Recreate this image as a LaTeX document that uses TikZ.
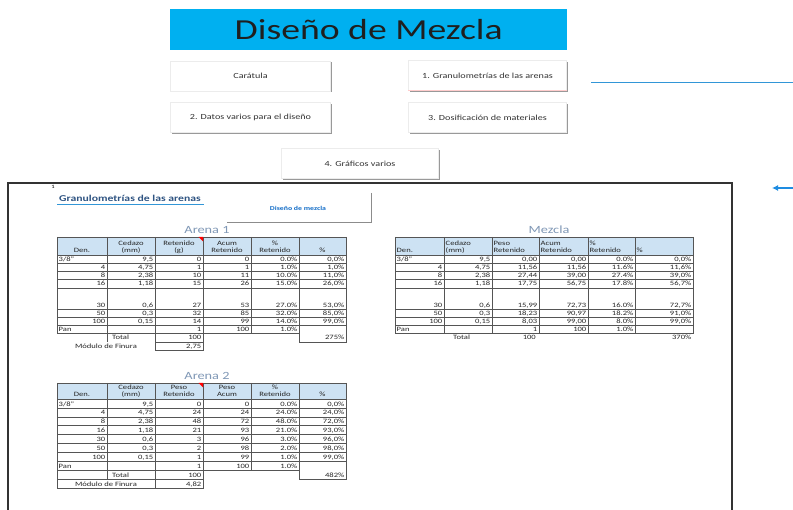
\documentclass[tikz,border=0pt]{standalone}
\usepackage{fontspec}
\setmainfont{Carlito}[FakeStretch=1.3]
\usetikzlibrary{arrows.meta,shadows}
\definecolor{titlecyan}{RGB}{0,176,240}
\definecolor{hdrblue}{RGB}{205,226,243}
\definecolor{tabline}{RGB}{85,85,85}
\definecolor{tabtitle}{RGB}{128,152,182}
\definecolor{headblue}{RGB}{47,84,130}
\definecolor{linkblue}{RGB}{20,110,200}
\definecolor{lineblue}{RGB}{50,150,215}
\definecolor{arrowblue}{RGB}{30,140,225}
\definecolor{btnedge}{RGB}{236,236,236}
\newcommand\tp{}
\newcommand\xa{}\newcommand\xb{}\newcommand\xc{}\newcommand\xd{}
\newcommand\xe{}\newcommand\xf{}\newcommand\xg{}
% data row: idx, ybottom, left text, den, v2..v6
\newcommand\drow[9]{%
  \node[cell,anchor=base west] (\tp#1a) at (\xa+1.5,#2-1.8) {#3};
  \node[cell,anchor=base east] (\tp#1b) at (\xb-1.5,#2-1.8) {#4};
  \node[cell,anchor=base east] (\tp#1c) at (\xc-1.5,#2-1.8) {#5};
  \node[cell,anchor=base east] (\tp#1d) at (\xd-1.5,#2-1.8) {#6};
  \node[cell,anchor=base east] (\tp#1e) at (\xe-1.5,#2-1.8) {#7};
  \node[cell,anchor=base east] (\tp#1f) at (\xf-1.5,#2-1.8) {#8};
  \node[cell,anchor=base east] (\tp#1g) at (\xg-1.5,#2-1.8) {#9};}
% header cell: name, x, ybottom, line1, line2, anchor
\newcommand\hcell[6]{%
  \node[cell,anchor=base #6] (#1u) at (#2,#3-9.5) {#4};
  \node[cell,anchor=base #6] (#1l) at (#2,#3-2.3) {#5};}
\begin{document}
\begin{tikzpicture}[x=1pt,y=-1pt,
  cell/.style={inner sep=0pt, font=\fontsize{6.6}{7}\selectfont, text=black!85},
  tab/.style={draw=tabline, line width=0.5pt},
  btn/.style={draw=btnedge, fill=white, inner sep=0pt, text=black!80,
    font=\fontsize{7.8}{9}\selectfont,
    drop shadow={shadow xshift=1.2pt, shadow yshift=-1.2pt, fill=black!40, opacity=1}},
  tabttl/.style={inner sep=0pt, text=tabtitle, font=\fontsize{11}{12}\selectfont}]
\useasboundingbox (0,0) rectangle (793,510);
\fill[white] (0,0) rectangle (793,510);

% ---------- top menu ----------
\node[fill=titlecyan, minimum width=397pt, minimum height=41pt, inner sep=0pt,
  anchor=north west, text=black!88, font=\fontsize{29}{30}\selectfont] (title) at (170,9) {Diseño de Mezcla};
\node[btn, minimum width=160pt, minimum height=30pt] (caratula) at (250.5,76) {Carátula};
\node[btn, minimum width=158pt, minimum height=30pt] (gran) at (487.5,75.5) {1. Granulometrías de las arenas};
\draw[red!20, line width=0.6pt] (gran.south west) -- (gran.south east);
\node[btn, minimum width=160pt, minimum height=30pt] (datos) at (250.5,117.5) {2. Datos varios para el diseño};
\node[btn, minimum width=158pt, minimum height=30pt] (dosif) at (487.5,117.5) {3. Dosificación de materiales};
\node[btn, minimum width=157pt, minimum height=30pt] (graf) at (360,163.5) {4. Gráficos varios};

\coordinate (bl1) at (591,83);
\coordinate (bl2) at (793,83);
\draw[lineblue, line width=1pt] (bl1) -- (bl2);
\coordinate (ar1) at (793,188);
\coordinate (ar2) at (772,188);
\draw[arrowblue, line width=1.2pt, -{Latex[length=6pt,width=6pt]}] (ar1) -- (ar2);

% ---------- sheet frame ----------
\draw[black!80, line width=1.3pt] (8,510) -- (8,183) -- (732,183) -- (732,510);
\node[inner sep=0pt, font=\fontsize{5}{5}\selectfont] (pnum) at (53,187) {1};
\node[inner sep=0pt, anchor=base west, text=headblue, font=\bfseries\fontsize{9}{10}\selectfont] (ghead) at (59,201.5) {Granulometrías de las arenas};
\draw[lineblue, line width=1.3pt] (57,204.5) -- (204,204.5);
\fill[white] (227,193) rectangle (371,223);
\draw[black!45, line width=1pt] (371,193) -- (371,223) -- (227,223);
\node[inner sep=0pt, text=linkblue, font=\bfseries\fontsize{6}{7}\selectfont] (dlink) at (298,208) {Diseño de mezcla};

% ---------- Arena 1 ----------
\node[tabttl] (t1) at (207,230) {Arena 1};
\fill[hdrblue] (57,237) rectangle (346,255);
\foreach \x in {57,107,155,203,251,299,346} \draw[tab] (\x,237) -- (\x,333.6);
\foreach \y in {237,255,263.2,271.4,279.6,287.8,309,317.2,325.4} \draw[tab] (57,\y) -- (346,\y);
\draw[tab] (57,333.6) -- (299,333.6);
\draw[tab] (107,333.6) -- (107,341.8);
\draw[tab] (155,333.6) rectangle (203,350);
\draw[tab] (155,341.8) -- (203,341.8);
\draw[tab] (299,333.6) -- (299,341.8) -- (346,341.8) -- (346,333.6);
\fill[red] (198.5,237) -- (203,237) -- (203,241.5) -- cycle;
\renewcommand\tp{a}
\renewcommand\xa{57}\renewcommand\xb{107}\renewcommand\xc{155}\renewcommand\xd{203}
\renewcommand\xe{251}\renewcommand\xf{299}\renewcommand\xg{346}
\hcell{ah1}{82}{255}{}{Den.}{}
\hcell{ah2}{131}{255}{Cedazo}{(mm)}{}
\hcell{ah3}{179}{255}{Retenido}{(g)}{}
\hcell{ah4}{227}{255}{Acum}{Retenido}{}
\hcell{ah5}{275}{255}{\%}{Retenido}{}
\hcell{ah6}{322.5}{255}{}{\%}{}
\drow{1}{263.2}{3/8"}{}{9,5}{0}{0}{0.0\%}{0,0\%}
\drow{2}{271.4}{}{4}{4,75}{1}{1}{1.0\%}{1,0\%}
\drow{3}{279.6}{}{8}{2,38}{10}{11}{10.0\%}{11,0\%}
\drow{4}{287.8}{}{16}{1,18}{15}{26}{15.0\%}{26,0\%}
\drow{5}{309}{}{30}{0,6}{27}{53}{27.0\%}{53,0\%}
\drow{6}{317.2}{}{50}{0,3}{32}{85}{32.0\%}{85,0\%}
\drow{7}{325.4}{}{100}{0,15}{14}{99}{14.0\%}{99,0\%}
\drow{8}{333.6}{Pan}{}{}{1}{100}{1.0\%}{}
\node[cell,anchor=base west] (atot) at (112,340) {Total};
\node[cell,anchor=base east] (atotv) at (201.5,340) {100};
\node[cell,anchor=base east] (atotp) at (344.5,340) {275\%};
\node[cell,anchor=base] (amod) at (106,348.2) {Módulo de Finura};
\node[cell,anchor=base east] (amodv) at (201.5,348.2) {2,75};

% ---------- Mezcla ----------
\node[tabttl] (t3) at (549,230) {Mezcla};
\fill[hdrblue] (395,237) rectangle (693,255);
\foreach \x in {395,444,492,539,588,635,693} \draw[tab] (\x,237) -- (\x,333.6);
\foreach \y in {237,255,263.2,271.4,279.6,287.8,309,317.2,325.4,333.6} \draw[tab] (395,\y) -- (693,\y);
\renewcommand\tp{m}
\renewcommand\xa{395}\renewcommand\xb{444}\renewcommand\xc{492}\renewcommand\xd{539}
\renewcommand\xe{588}\renewcommand\xf{635}\renewcommand\xg{693}
\hcell{mh1}{396.5}{255}{}{Den.}{west}
\hcell{mh2}{445.5}{255}{Cedazo}{(mm)}{west}
\hcell{mh3}{493.5}{255}{Peso}{Retenido}{west}
\hcell{mh4}{540.5}{255}{Acum}{Retenido}{west}
\hcell{mh5}{589.5}{255}{\%}{Retenido}{west}
\hcell{mh6}{636.5}{255}{}{\%}{west}
\drow{1}{263.2}{3/8"}{}{9,5}{0,00}{0,00}{0.0\%}{0,0\%}
\drow{2}{271.4}{}{4}{4,75}{11,56}{11,56}{11.6\%}{11,6\%}
\drow{3}{279.6}{}{8}{2,38}{27,44}{39,00}{27.4\%}{39,0\%}
\drow{4}{287.8}{}{16}{1,18}{17,75}{56,75}{17.8\%}{56,7\%}
\drow{5}{309}{}{30}{0,6}{15,99}{72,73}{16.0\%}{72,7\%}
\drow{6}{317.2}{}{50}{0,3}{18,23}{90,97}{18.2\%}{91,0\%}
\drow{7}{325.4}{}{100}{0,15}{8,03}{99,00}{8.0\%}{99,0\%}
\drow{8}{333.6}{Pan}{}{}{1}{100}{1.0\%}{}
\node[cell,anchor=base west] (mtot) at (453,340) {Total};
\node[cell,anchor=base east] (mtotv) at (536,340) {100};
\node[cell,anchor=base east] (mtotp) at (691.5,340) {370\%};

% ---------- Arena 2 ----------
\node[tabttl] (t2) at (207,376) {Arena 2};
\fill[hdrblue] (57,383) rectangle (346,399);
\foreach \x in {57,107,155,203,251,299,346} \draw[tab] (\x,383) -- (\x,470.2);
\foreach \y in {383,399,407.9,416.8,425.7,434.6,443.5,452.4,461.3} \draw[tab] (57,\y) -- (346,\y);
\draw[tab] (57,470.2) -- (299,470.2);
\draw[tab] (57,470.2) -- (57,488) -- (203,488) -- (203,470.2);
\draw[tab] (107,470.2) -- (107,479.1);
\draw[tab] (155,470.2) -- (155,488);
\draw[tab] (57,479.1) -- (203,479.1);
\draw[tab] (299,470.2) -- (299,479.1) -- (346,479.1) -- (346,470.2);
\fill[red] (198.5,383) -- (203,383) -- (203,387.5) -- cycle;
\renewcommand\tp{b}
\renewcommand\xa{57}\renewcommand\xb{107}\renewcommand\xc{155}\renewcommand\xd{203}
\renewcommand\xe{251}\renewcommand\xf{299}\renewcommand\xg{346}
\hcell{bh1}{82}{399}{}{Den.}{}
\hcell{bh2}{131}{399}{Cedazo}{(mm)}{}
\hcell{bh3}{179}{399}{Peso}{Retenido}{}
\hcell{bh4}{227}{399}{Peso}{Acum}{}
\hcell{bh5}{275}{399}{\%}{Retenido}{}
\hcell{bh6}{322.5}{399}{}{\%}{}
\drow{1}{407.9}{3/8"}{}{9,5}{0}{0}{0.0\%}{0,0\%}
\drow{2}{416.8}{}{4}{4,75}{24}{24}{24.0\%}{24,0\%}
\drow{3}{425.7}{}{8}{2,38}{48}{72}{48.0\%}{72,0\%}
\drow{4}{434.6}{}{16}{1,18}{21}{93}{21.0\%}{93,0\%}
\drow{5}{443.5}{}{30}{0,6}{3}{96}{3.0\%}{96,0\%}
\drow{6}{452.4}{}{50}{0,3}{2}{98}{2.0\%}{98,0\%}
\drow{7}{461.3}{}{100}{0,15}{1}{99}{1.0\%}{99,0\%}
\drow{8}{470.2}{Pan}{}{}{1}{100}{1.0\%}{}
\node[cell,anchor=base west] (btot) at (112,477.3) {Total};
\node[cell,anchor=base east] (btotv) at (201.5,477.3) {100};
\node[cell,anchor=base east] (btotp) at (344.5,477.3) {482\%};
\node[cell,anchor=base] (bmod) at (106,486.2) {Módulo de Finura};
\node[cell,anchor=base east] (bmodv) at (201.5,486.2) {4,82};
\end{tikzpicture}
\end{document}
